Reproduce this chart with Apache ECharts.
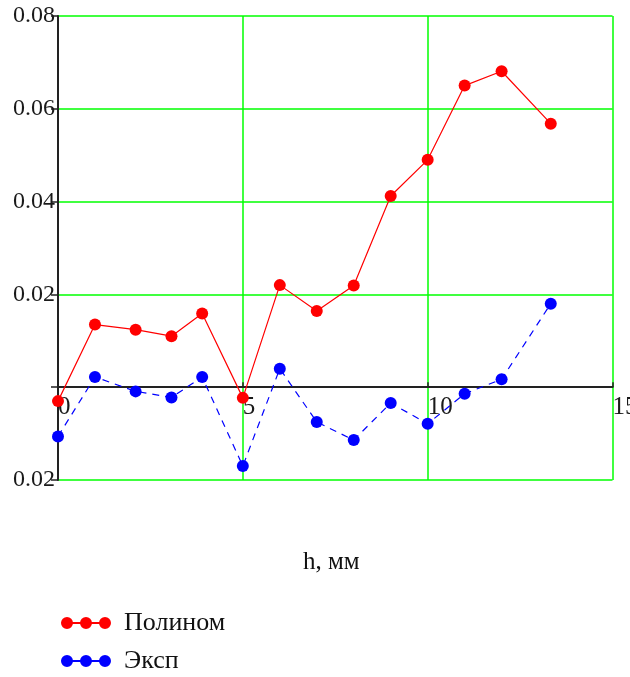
<!DOCTYPE html>
<html>
<head>
<meta charset="utf-8">
<script src="https://cdn.jsdelivr.net/npm/echarts@6/dist/echarts.min.js"></script>
<style>
  html, body { margin: 0; padding: 0; background: #fff; overflow: hidden; }
  #chart { width: 630px; height: 677px; }
</style>
</head>
<body>
<div id="chart"></div>
<script>
// Depth h, mm
const hValues = [0, 1, 2.1, 3.07, 3.9, 5, 6, 7, 8, 9, 10, 11, 12, 13.33];
// Deviation of the polynomial fit
const polynomValues = [-0.0030, 0.0135, 0.0124, 0.0110, 0.0159, -0.0023, 0.0220, 0.0164, 0.0219, 0.0412, 0.0490, 0.0650, 0.0681, 0.0568];
// Deviation of the exponential fit
const expValues = [-0.0106, 0.0022, -0.0009, -0.0022, 0.0022, -0.0170, 0.0040, -0.0075, -0.0114, -0.0034, -0.0079, -0.0014, 0.0017, 0.0180];

const seriesNames = ['Полином', 'Эксп'];
const axisTitle = 'h, мм';

const FONT = '"Liberation Serif", "Times New Roman", serif';
const pairs = (xs, ys) => xs.map((x, i) => [x, ys[i]]);

// three joined dots used as the legend marker (all sub-paths clockwise)
const dotsIcon = 'path://M0,6a6,6 0 1,1 12,0a6,6 0 1,1 -12,0Z' +
  'M19,6a6,6 0 1,1 12,0a6,6 0 1,1 -12,0Z' +
  'M38,6a6,6 0 1,1 12,0a6,6 0 1,1 -12,0Z' +
  'M6,5L44,5L44,7L6,7Z';

const chart = echarts.init(document.getElementById('chart'), null, { renderer: 'canvas' });

chart.setOption({
  animation: false,
  backgroundColor: '#ffffff',
  grid: { left: 58, right: 17.5, top: 16, bottom: 197, containLabel: false, outerBoundsMode: 'none' },
  title: {
    text: axisTitle,
    left: 303, top: 550,
    padding: 0,
    textStyle: { fontFamily: FONT, fontSize: 25, fontWeight: 'normal', color: '#111' }
  },
  xAxis: {
    type: 'value',
    min: 0, max: 15, interval: 5,
    // the axis is lifted onto y = 0 below, once the scale is known
    axisLine: { onZero: false, lineStyle: { color: '#222', width: 2 } },
    axisTick: { show: true, inside: true, length: 5, lineStyle: { color: '#222', width: 1.5 } },
    axisLabel: {
      fontFamily: FONT, fontSize: 25, color: '#1a1a1a',
      align: 'left', margin: 8,
      formatter: v => String(v)
    },
    splitLine: { show: true, lineStyle: { color: '#00ff00', width: 1.5 } }
  },
  yAxis: {
    type: 'value',
    min: -0.02, max: 0.08, interval: 0.02,
    axisLine: { show: true, onZero: false, lineStyle: { color: '#222', width: 2 } },
    axisTick: { show: true, length: 7, lineStyle: { color: '#222', width: 1.5 } },
    axisLabel: {
      fontFamily: FONT, fontSize: 24, color: '#1a1a1a', margin: 3,
      padding: [6, 0, 0, 0],
      formatter: v => (Math.abs(v) < 1e-9 ? '' : Math.abs(v).toFixed(2))
    },
    splitLine: { show: true, lineStyle: { color: '#00ff00', width: 1.5 } }
  },
  legend: {
    orient: 'vertical',
    left: 61, top: 609,
    padding: 0,
    itemWidth: 50, itemHeight: 12, itemGap: 10,
    icon: dotsIcon,
    itemStyle: { borderWidth: 0 },
    textStyle: { fontFamily: FONT, fontSize: 26, lineHeight: 28, color: '#111', padding: [0, 0, 0, 8] },
    data: seriesNames
  },
  series: [
    {
      name: seriesNames[0],
      type: 'line',
      data: pairs(hValues, polynomValues),
      symbol: 'circle', symbolSize: 12,
      itemStyle: { color: '#ff0000' },
      lineStyle: { color: '#ff0000', width: 1.2 },
      z: 3
    },
    {
      name: seriesNames[1],
      type: 'line',
      data: pairs(hValues, expValues),
      symbol: 'circle', symbolSize: 12,
      itemStyle: { color: '#0000ff' },
      lineStyle: { color: '#0000ff', width: 1.2, type: [7, 6] },
      z: 3
    }
  ]
});

// Move the whole x axis (line, ticks, labels) up to the y = 0 level
const zeroPx = chart.convertToPixel({ yAxisIndex: 0 }, 0);
const bottomPx = chart.convertToPixel({ yAxisIndex: 0 }, -0.02);
chart.setOption({ xAxis: { offset: -(bottomPx - zeroPx) } });
</script>
</body>
</html>
